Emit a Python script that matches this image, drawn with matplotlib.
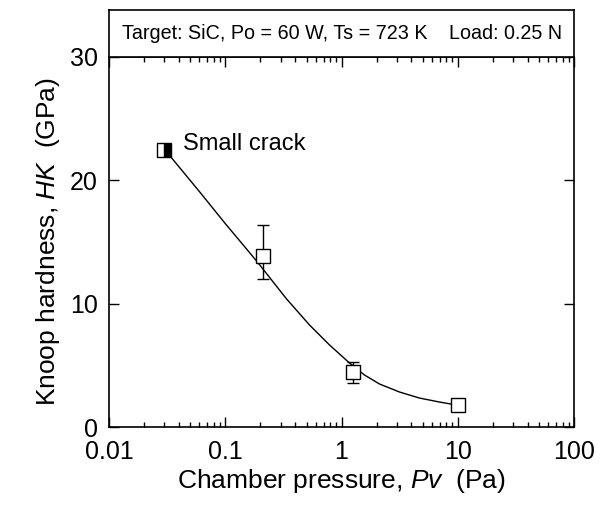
import numpy as np
import matplotlib
matplotlib.use("Agg")
import matplotlib.pyplot as plt
from matplotlib.ticker import LogLocator, FixedLocator, NullFormatter

plt.rcParams['font.family'] = ['Liberation Sans', 'DejaVu Sans']
plt.rcParams['mathtext.fontset'] = 'custom'
plt.rcParams['mathtext.rm'] = 'Liberation Sans'
plt.rcParams['mathtext.it'] = 'Liberation Sans:italic'

# measured hardness vs chamber pressure
pressure = [0.03, 0.21, 1.25, 10.0]
hardness = [22.5, 13.9, 4.5, 1.82]
err_low = [0.0, 1.9, 0.93, 0.0]
err_high = [0.0, 2.5, 0.77, 0.0]

# trend line drawn through the data
curve_p = [0.034, 0.0604, 0.0991, 0.186, 0.337, 0.531, 0.789, 1.172,
           1.575, 2.12, 3.15, 4.68, 6.93, 8.79]
curve_h = [21.9, 19.05, 16.54, 13.46, 10.38, 8.27, 6.65, 5.19,
           4.22, 3.49, 2.84, 2.35, 2.03, 1.86]

fig = plt.figure(figsize=(6.1, 5.08), dpi=100)
ax = fig.add_axes([0.1787, 0.1594, 0.7623, 0.7284])

ax.plot(curve_p, curve_h, color='black', lw=1.0, zorder=2)
ax.errorbar(pressure[1:3], hardness[1:3],
            yerr=[err_low[1:3], err_high[1:3]],
            fmt='none', ecolor='black', elinewidth=1.0, capsize=4.5, capthick=1.0, zorder=2)
ax.plot(pressure[1:], hardness[1:], 's', ms=9.5, mfc='white', mec='black', mew=1.0, zorder=3)
ax.plot(pressure[:1], hardness[:1], 's', ms=9.5, fillstyle='right',
        mfc='black', mfcalt='white', mec='black', mew=1.0, zorder=3)

ax.text(0.0432, 22.5, 'Small crack', fontsize=17, va='baseline', ha='left')

ax.set_xscale('log')
ax.set_xlim(0.01, 100)
ax.set_ylim(0, 30)
ax.set_xticks([0.01, 0.1, 1, 10, 100])
ax.set_xticklabels(['0.01', '0.1', '1', '10', '100'])
ax.xaxis.set_minor_locator(LogLocator(base=10, subs=np.arange(2, 10)))
ax.xaxis.set_minor_formatter(NullFormatter())
ax.yaxis.set_major_locator(FixedLocator([0, 10, 20, 30]))

ax.tick_params(which='both', direction='in', top=True, right=True,
               labelsize=18, width=1.0)
ax.tick_params(axis='x', pad=9.5)
ax.tick_params(axis='y', pad=8)
ax.tick_params(which='major', length=7)
ax.tick_params(which='minor', length=3.5)
for s in ax.spines.values():
    s.set_linewidth(1.2)

ax.set_xlabel('Chamber pressure, $\\it{Pv}$  (Pa)', fontsize=19, labelpad=2)
ax.set_ylabel('Knoop hardness, $\\it{HK}$  (GPa)', fontsize=19, labelpad=6)

# condition header sitting on top of the plot frame
hdr = fig.add_axes([0.1787, 0.8878, 0.7623, 0.0925])
hdr.set_xticks([])
hdr.set_yticks([])
for s in hdr.spines.values():
    s.set_linewidth(1.2)
hdr.text(0.028, 0.5, 'Target: SiC, Po = 60 W, Ts = 723 K', fontsize=14.2,
         va='center', ha='left', transform=hdr.transAxes)
hdr.text(0.975, 0.5, 'Load: 0.25 N', fontsize=14.2,
         va='center', ha='right', transform=hdr.transAxes)

fig.savefig('out.png', dpi=100)
